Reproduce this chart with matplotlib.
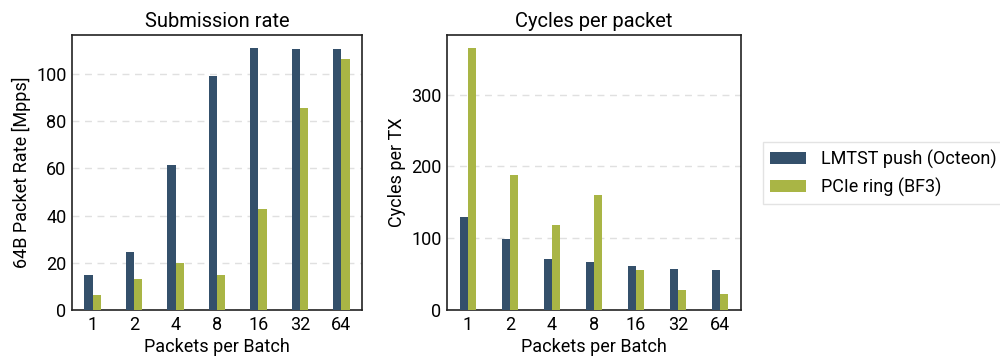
import matplotlib
matplotlib.use("Agg")
import matplotlib.pyplot as plt
import numpy as np

plt.rcParams['font.family'] = ['Roboto', 'DejaVu Sans']

batch_sizes = ["1", "2", "4", "8", "16", "32", "64"]
series_names = ["LMTST push (Octeon)", "PCIe ring (BF3)"]

rate_lmtst = [15.0, 24.4, 61.3, 99.2, 111.0, 110.6, 110.6]
rate_pcie = [6.5, 13.0, 20.1, 15.0, 42.6, 85.6, 106.4]

cycles_lmtst = [130.2, 99.5, 71.6, 67.4, 61.9, 57.7, 56.3]
cycles_pcie = [364.7, 187.4, 119.1, 160.9, 56.3, 28.4, 22.8]

colors = ["#34506b", "#a9b545"]

fig = plt.figure(figsize=(10, 3.58), dpi=100)
ax1 = fig.add_axes([0.072, 0.134, 0.290, 0.768])
ax2 = fig.add_axes([0.447, 0.134, 0.294, 0.768])

x = np.arange(len(batch_sizes))
w = 0.2


def draw(ax, a, b, title, ylabel):
    bars_a = ax.bar(x - w / 2, a, width=w, color=colors[0], label=series_names[0], zorder=3)
    bars_b = ax.bar(x + w / 2, b, width=w, color=colors[1], label=series_names[1], zorder=3)
    ax.set_xlim(-0.5, len(batch_sizes) - 0.5)
    ax.set_xticks(x)
    ax.set_xticklabels(batch_sizes)
    ax.set_title(title, fontsize=14.5, pad=6)
    ax.set_xlabel("Packets per Batch", fontsize=13, labelpad=3)
    ax.set_ylabel(ylabel, fontsize=13)
    ax.tick_params(axis='both', length=0, labelsize=13, pad=4)
    ax.yaxis.grid(True, linestyle=(0, (5, 4)), color="#e0e0e0", linewidth=1, zorder=0)
    for s in ax.spines.values():
        s.set_linewidth(1.2)
        s.set_color("#222222")
    return bars_a, bars_b


h = draw(ax1, rate_lmtst, rate_pcie, "Submission rate", "64B Packet Rate [Mpps]")
ax1.set_ylim(0, 116.5)
ax1.set_yticks([0, 20, 40, 60, 80, 100])
draw(ax2, cycles_lmtst, cycles_pcie, "Cycles per packet", "Cycles per TX")
ax2.set_ylim(0, 383)
ax2.set_yticks([0, 100, 200, 300])

leg = fig.legend(h, series_names, loc="upper left", bbox_to_anchor=(0.763, 0.603),
                 fontsize=13, frameon=True, fancybox=False, borderaxespad=0,
                 handlelength=2.0, handleheight=0.7)
leg.get_frame().set_edgecolor("#dddddd")
leg.get_frame().set_linewidth(1.0)

fig.savefig("out.png", dpi=100)
